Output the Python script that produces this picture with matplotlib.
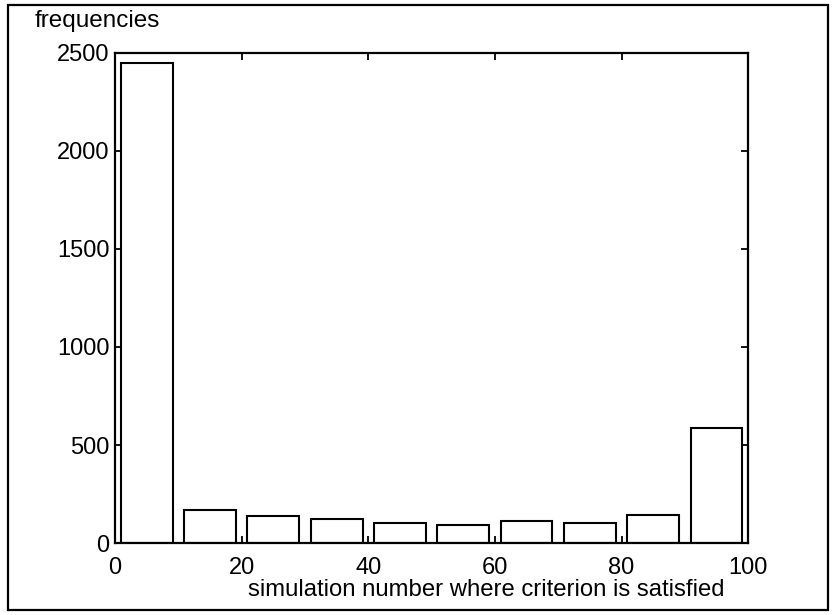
import numpy as np
import matplotlib.pyplot as plt
from matplotlib.patches import Rectangle

# histogram counts per bin of 10
bin_centers = [5, 15, 25, 35, 45, 55, 65, 75, 85, 95]
counts = [2448, 171, 137, 125, 103, 91, 112, 100, 142, 587]
x_ticks = [0, 20, 40, 60, 80, 100]
y_ticks = [0, 500, 1000, 1500, 2000, 2500]

plt.rcParams['font.family'] = ['Liberation Sans', 'DejaVu Sans']

fig = plt.figure(figsize=(8.32, 6.15), dpi=100)
ax = fig.add_axes([0.1382, 0.117, 0.761, 0.797])

ax.bar(bin_centers, counts, width=8.2, facecolor='white',
       edgecolor='black', linewidth=1.5)

ax.set_xlim(0, 100)
ax.set_ylim(0, 2500)
ax.set_xticks(x_ticks)
ax.set_yticks(y_ticks)
ax.tick_params(direction='in', length=5, width=1.3, labelsize=17,
               top=True, right=True)
ax.tick_params(axis='x', pad=10)
ax.tick_params(axis='y', pad=4)
for s in ax.spines.values():
    s.set_linewidth(1.6)

fig.text(486 / 832, 1 - 590 / 615, 'simulation number where criterion is satisfied',
         ha='center', va='center', fontsize=17.2)
fig.text(35 / 832, 1 - 21 / 615, 'frequencies', ha='left', va='center', fontsize=17.5)

# outer frame around the figure
fig.patches.append(Rectangle((8 / 832, 5 / 615), 820 / 832, 605 / 615,
                             transform=fig.transFigure, fill=False,
                             edgecolor='black', linewidth=1.6))

fig.savefig('out.png', dpi=100)
